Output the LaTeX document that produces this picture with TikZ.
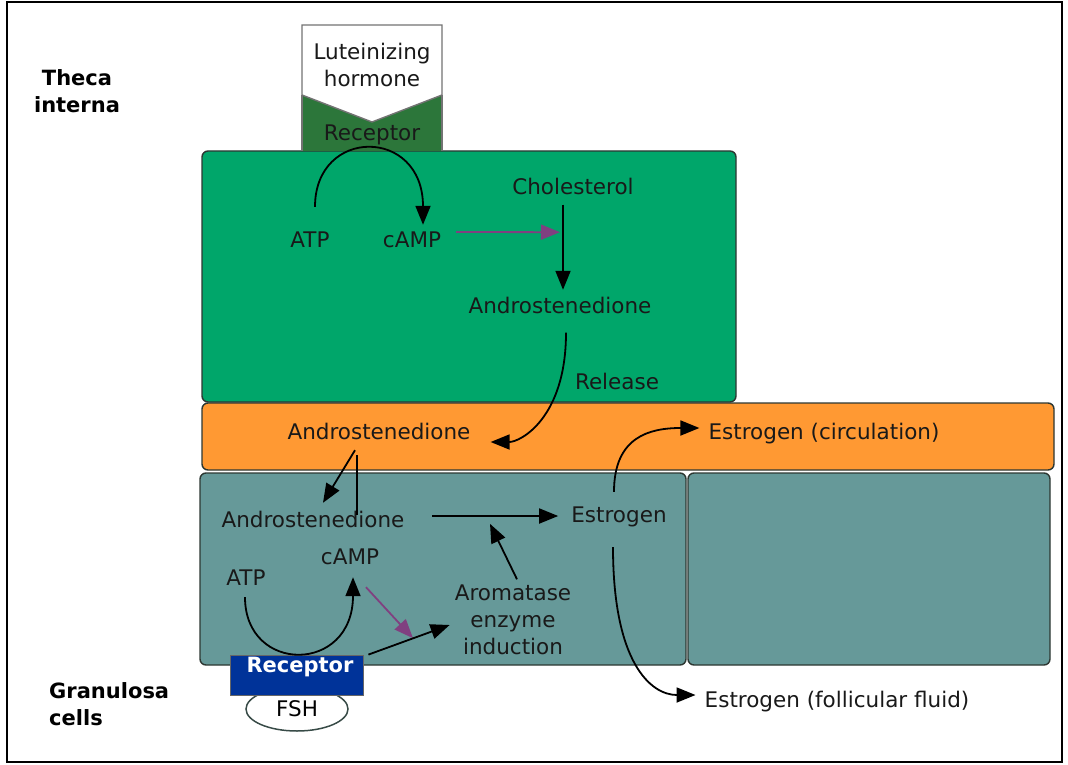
\documentclass[tikz,border=0pt]{standalone}
\usepackage{fontspec}
\setmainfont{DejaVu Sans}
\usetikzlibrary{arrows.meta,shapes.geometric,calc}
\definecolor{thecagreen}{RGB}{0,166,106}
\definecolor{recgreen}{RGB}{44,118,58}
\definecolor{fluidorange}{RGB}{255,153,51}
\definecolor{granteal}{RGB}{102,153,153}
\definecolor{recblue}{RGB}{0,51,153}
\definecolor{camppurple}{RGB}{128,64,128}
\definecolor{edgedark}{RGB}{45,55,50}
\begin{document}
\begin{tikzpicture}[x=1pt,y=-1pt,
  cellbox/.style={draw=edgedark,line width=1.4pt,rounded corners=6pt,inner sep=0pt},
  lbl/.style={inner sep=0pt,text height=15pt,text depth=4pt,font=\fontsize{21.5}{27}\selectfont,text=black!90},
  multi/.style={inner sep=0pt,align=center,font=\fontsize{21.5}{27}\selectfont,text=black!90},
  side/.style={inner sep=0pt,align=center,font=\fontsize{21}{27}\selectfont\bfseries},
  arr/.style={line width=1.8pt,-{Triangle[length=19pt,width=15pt]}},
  parr/.style={line width=1.8pt,draw=camppurple,-{Triangle[length=19pt,width=15pt]},camppurple}
]
\useasboundingbox (0,0) rectangle (1068,765);
\draw[line width=2pt] (7,2) rectangle (1062,762);

% cell layers
\node[cellbox,fill=thecagreen,minimum width=534,minimum height=251] (theca) at (469,276.5) {};
\node[cellbox,fill=fluidorange,minimum width=852,minimum height=67] (fluid) at (628,436.5) {};
\node[cellbox,fill=granteal,minimum width=486,minimum height=192] (gran1) at (443,569) {};
\node[cellbox,fill=granteal,minimum width=362,minimum height=192] (gran2) at (869,569) {};

% LH receptor
\fill[recgreen] (302,95) -- (372,122) -- (442,95) -- (442,151) -- (302,151) -- cycle;
\draw[fill=white,draw=black!55,line width=1.4pt] (302,95) -- (302,25) -- (442,25) -- (442,95) -- (372,122) -- cycle;
\draw[draw=black!55,line width=1.4pt] (302,95) -- (302,151) (442,95) -- (442,151);
\node[multi] (lh) at (372,65) {Luteinizing\\hormone};
\node[lbl] (lhrec) at (372,135) {Receptor};

% side labels
\node[side] (theca-lbl) at (77,91) {Theca\\interna};
\node[side,align=left,anchor=west] (gran-lbl) at (49,704) {Granulosa\\cells};

% theca texts
\node[lbl] (chol) at (573,189) {Cholesterol};
\node[lbl] (atp1) at (310,242) {ATP};
\node[lbl] (camp1) at (412,242) {cAMP};
\node[lbl] (andro1) at (560,308) {Androstenedione};
\node[lbl] (release) at (617,384) {Release};

% fluid texts
\node[lbl] (andro2) at (379,434) {Androstenedione};
\node[lbl] (circ) at (824,434) {Estrogen (circulation)};

% granulosa texts
\node[lbl] (andro3) at (313,522) {Androstenedione};
\node[lbl] (estr) at (619,517) {Estrogen};
\node[lbl] (atp2) at (246,580) {ATP};
\node[lbl] (camp2) at (350,559) {cAMP};
\node[multi] (arom) at (513,620) {Aromatase\\enzyme\\induction};
\node[lbl] (foll) at (837,702) {Estrogen (follicular fluid)};

% FSH receptor
\node[ellipse,draw=edgedark!80!granteal,line width=1.5pt,fill=white,minimum width=102,minimum height=44,inner sep=0pt,font=\fontsize{21.5}{27}\selectfont] (fsh) at (297,709) {FSH};
\node[fill=recblue,draw=black!60,line width=0.8pt,minimum width=133,minimum height=40,inner sep=0pt] (fshrec) at (296.5,675) {};
\node[inner sep=0pt,text=white,font=\fontsize{21}{27}\selectfont\bfseries] (fshrectxt) at (300,667) {Receptor};

% theca connectors
\draw[arr] ($(atp1.north)+(5,-25.5)$) .. controls +(0,-80) and +(0,-98) .. ($(camp1.north)+(11,-7.5)$);
\draw[parr] ($(camp1.east)+(15,-10)$) -- ($(chol.south)+(-13,33.5)$);
\draw[arr] ($(chol.south)+(-10,6)$) -- ($(andro1.north)+(3,-8.5)$);
\draw[arr] ($(andro1.south)+(6,15)$) .. controls +(0,85) and +(30,0) .. ($(andro2.east)+(20,8)$);

% fluid / granulosa connectors
\draw[arr] ($(andro2.south)+(-24,6.5)$) -- ($(andro3.north)+(10,-9.5)$);
\draw[line width=1.8pt] ($(andro2.south)+(-22,11.5)$) -- ($(andro3.north)+(44,2.5)$);
\draw[arr] ($(andro3.east)+(27.5,-6)$) -- ($(estr.west)+(-13,-1)$);
\draw[arr] ($(arom.north)+(4,-5.5)$) -- ($(arom.north)+(-23,-61)$);
\draw[arr] ($(estr.north)+(-5,-15.5)$) .. controls +(0,-55) and +(-50,0) .. ($(circ.west)+(-9,-6)$);
\draw[arr] ($(estr.south)+(-6,20.5)$) .. controls +(0,115) and +(-45,0) .. ($(foll.west)+(-9,-7)$);
\draw[arr] ($(atp2.south)+(-1,7.5)$) .. controls +(0,77) and +(0,97) .. ($(camp2.south)+(3,8.5)$);
\draw[parr] ($(camp2.south)+(16,18.5)$) -- +(47,51);
\draw[arr] ($(fshrec.north east)+(5,0)$) -- ($(arom.west)+(-5,5)$);
\end{tikzpicture}
\end{document}
